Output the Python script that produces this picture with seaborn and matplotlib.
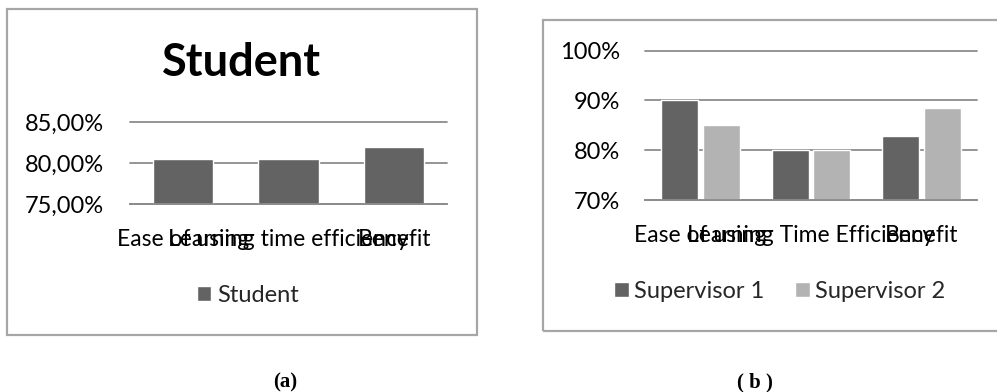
import matplotlib
matplotlib.use("Agg")
import numpy as np
import pandas as pd
import seaborn as sns
import matplotlib.pyplot as plt
from matplotlib.patches import Rectangle
from matplotlib.ticker import FuncFormatter

# Panel (a): student ratings
student_categories = ["Ease of using", "Learning time efficiency", "Benefit"]
student_scores = [80.45, 80.45, 81.9]
student_ticks = [75, 80, 85]

# Panel (b): supervisor ratings
supervisor_categories = ["Ease of using", "Learning Time Efficiency", "Benefit"]
supervisor_1 = [90.0, 80.0, 82.8]
supervisor_2 = [85.0, 80.0, 88.4]
supervisor_ticks = [70, 80, 90, 100]

W, H = 997, 392
DARK = "#636363"
LIGHT = "#b3b3b3"
GRID = "#8c8c8c"
FRAME = "#a6a6a6"

sns.set_theme(style="white")
plt.rcParams["font.family"] = ["Lato", "DejaVu Sans"]

fig = plt.figure(figsize=(W / 100, H / 100), dpi=100)


def px_axes(x0, y0, x1, y1):
    return fig.add_axes([x0 / W, 1 - y1 / H, (x1 - x0) / W, (y1 - y0) / H])


def frame(x0, y0, x1, y1):
    fig.patches.append(Rectangle((x0 / W, 1 - y1 / H), (x1 - x0) / W, (y1 - y0) / H,
                                 transform=fig.transFigure, fill=False,
                                 ec=FRAME, lw=1.6, clip_on=False))


def style_axes(ax, ticks):
    ax.set_yticks(ticks)
    ax.set_ylim(ticks[0], ticks[-1])
    ax.grid(axis="y", color=GRID, lw=1.3)
    ax.set_axisbelow(True)
    for gl in ax.get_ygridlines():
        gl.set_clip_on(False)
    for s in ["top", "right", "left"]:
        ax.spines[s].set_visible(False)
    ax.spines["bottom"].set_color(GRID)
    ax.spines["bottom"].set_linewidth(1.3)
    ax.set_xlabel("")
    ax.set_ylabel("")
    ax.tick_params(axis="both", length=0, labelcolor="black")
    ax.tick_params(axis="y", pad=19, labelsize=17)
    ax.tick_params(axis="x", pad=18, labelsize=16.5)


# ---- (a) Student ----
df_a = pd.DataFrame({"aspect": student_categories, "score": student_scores,
                     "group": ["Student"] * len(student_categories)})
frame(7, 9, 477, 335)
ax_a = px_axes(130, 122, 447, 204)
sns.barplot(data=df_a, x="aspect", y="score", hue="group", palette=[DARK],
            width=0.57, saturation=1, ax=ax_a)
style_axes(ax_a, student_ticks)
ax_a.yaxis.set_major_formatter(FuncFormatter(lambda v, p: f"{v:.2f}%".replace(".", ",")))
sns.move_legend(ax_a, loc="center", bbox_to_anchor=(248 / W, 1 - 295 / H),
                bbox_transform=fig.transFigure, frameon=False, title=None,
                fontsize=17, handlelength=0.6, handleheight=0.6, handletextpad=0.25)
fig.text(242 / W, 1 - 76 / H, "Student", ha="center", va="baseline",
         fontsize=32.5, fontweight="bold", color="black")

# ---- (b) Supervisors ----
df_b = pd.DataFrame({
    "aspect": supervisor_categories * 2,
    "score": supervisor_1 + supervisor_2,
    "group": ["Supervisor 1"] * 3 + ["Supervisor 2"] * 3,
})
frame(543, 20, 1010, 331)
ax_b = px_axes(645, 50.7, 977, 200)
sns.barplot(data=df_b, x="aspect", y="score", hue="group", palette=[DARK, LIGHT],
            width=0.75, gap=0.11, saturation=1, ax=ax_b)
style_axes(ax_b, supervisor_ticks)
ax_b.tick_params(axis="y", pad=18)
ax_b.yaxis.set_major_formatter(FuncFormatter(lambda v, p: f"{v:.0f}%"))
sns.move_legend(ax_b, loc="center", bbox_to_anchor=(780 / W, 1 - 291 / H),
                bbox_transform=fig.transFigure, frameon=False, title=None, ncol=2,
                fontsize=17, handlelength=0.6, handleheight=0.6, handletextpad=0.25,
                columnspacing=1.3)

# Captions
cap_font = dict(family=["Liberation Serif", "DejaVu Serif"], fontsize=15,
                fontweight="bold", ha="center", va="center", color="black")
fig.text(285 / W, 1 - 382 / H, "(a)", **cap_font)
fig.text(755 / W, 1 - 382 / H, "( b )", **cap_font)

fig.savefig("out.png", dpi=100, facecolor="white")
